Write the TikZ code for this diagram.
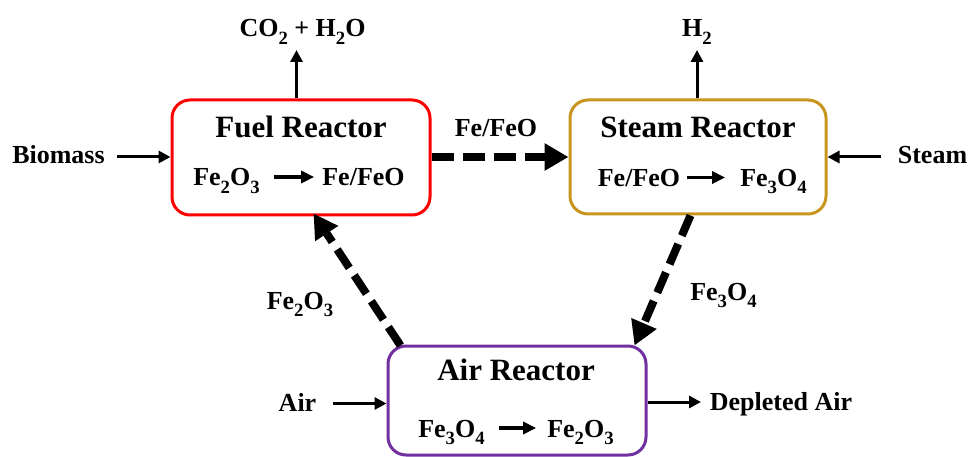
\documentclass[tikz,border=0pt]{standalone}
\usepackage{fontspec}
\usepackage{graphicx}
\setmainfont{Liberation Serif}
\usetikzlibrary{arrows.meta}
\definecolor{fuelred}{HTML}{FF0000}
\definecolor{steamgold}{HTML}{C8961E}
\definecolor{airpurple}{HTML}{7030A0}
\newcommand{\sbs}[1]{\raisebox{-0.28em}{\scalebox{0.72}{#1}}}
\tikzset{
  reactor/.style={draw, line width=3pt, rounded corners=18pt, fill=white, inner sep=0pt},
  title/.style={font=\fontsize{31}{31}\selectfont\bfseries, inner sep=0pt, anchor=base},
  formula/.style={font=\fontsize{26}{26}\selectfont\bfseries, inner sep=0pt, anchor=base},
  lbl/.style={font=\fontsize{26}{26}\selectfont\bfseries, inner sep=0pt, anchor=base},
  flow/.style={line width=3pt, -{Triangle[length=12pt,width=12pt]}},
  inner/.style={line width=3.2pt, -{Triangle[length=13pt,width=12pt]}},
  solids/.style={line width=8pt, dash pattern=on 22pt off 9pt, -{Triangle[length=24pt,width=26pt]}}
}
\begin{document}
\begin{tikzpicture}[x=1pt,y=-1pt]
\useasboundingbox[fill=white] (0,0) rectangle (969,457);

% reactors
\node[reactor, draw=fuelred, minimum width=258pt, minimum height=115pt] (fuel) at (301,157.5) {};
\node[reactor, draw=steamgold, minimum width=256pt, minimum height=114pt] (steam) at (698,157) {};
\node[reactor, draw=airpurple, minimum width=258pt, minimum height=109pt] (air) at (517,400.5) {};

% titles
\node[title] (fuelT) at (301,138) {Fuel Reactor};
\node[title] (steamT) at (698,138) {Steam Reactor};
\node[title] (airT) at (516,380) {Air Reactor};

% formulas
\node[formula] (fa) at (226.5,186) {Fe\sbs{2}O\sbs{3}};
\node[formula] (fb) at (363.5,186) {Fe/FeO};
\node[formula] (sa) at (639,186.5) {Fe/FeO};
\node[formula] (sb) at (773.5,186.5) {Fe\sbs{3}O\sbs{4}};
\node[formula] (aa) at (451.5,437) {Fe\sbs{3}O\sbs{4}};
\node[formula] (ab) at (580.5,437) {Fe\sbs{2}O\sbs{3}};
\draw[inner] ([xshift=14pt,yshift=9pt]fa.base east) -- ([xshift=-8pt,yshift=9pt]fb.base west);
\draw[inner] ([xshift=7pt,yshift=9pt]sa.base east) -- ([xshift=-15pt,yshift=9pt]sb.base west);
\draw[inner] ([xshift=14pt,yshift=9pt]aa.base east) -- ([xshift=-11pt,yshift=9pt]ab.base west);

% external streams
\node[lbl] (biomass) at (58.5,164) {Biomass};
\node[lbl] (steamin) at (932.5,164) {Steam};
\node[lbl] (co2) at (302.5,37) {CO\sbs{2} + H\sbs{2}O};
\node[lbl] (h2) at (697,37) {H\sbs{2}};
\node[lbl] (airin) at (297.5,411) {Air};
\node[lbl] (depl) at (781,410) {Depleted Air};

\coordinate (bioS) at (117,157);
\coordinate (stS) at (881,157);
\coordinate (co2E) at (296.5,50);
\coordinate (h2E) at (697,50);
\coordinate (airS) at (333,403.5);
\coordinate (deplE) at (701,402);

\draw[flow] (bioS) -- (bioS -| fuel.west);
\draw[flow] (stS) -- (stS -| steam.east);
\draw[flow] (co2E |- fuel.north) -- (co2E);
\draw[flow] (h2E |- steam.north) -- (h2E);
\draw[flow] (airS) -- (airS -| air.west);
\draw[flow] (deplE -| air.east) -- (deplE);

% solid circulation
\node[lbl] (lfe) at (496,137) {Fe/FeO};
\node[lbl] (lfe3) at (723.5,300) {Fe\sbs{3}O\sbs{4}};
\node[lbl] (lfe2) at (300,309) {Fe\sbs{2}O\sbs{3}};
\draw[solids] (fuel.east |- 0,157) -- (steam.west |- 0,157);
\draw[solids] ([xshift=122pt]steam.south west) -- ([xshift=248pt,yshift=-1pt]air.north west);
\draw[solids] ([xshift=14pt,yshift=-1pt]air.north west) -- ([xshift=143pt,yshift=3pt]fuel.south west);
\end{tikzpicture}
\end{document}
